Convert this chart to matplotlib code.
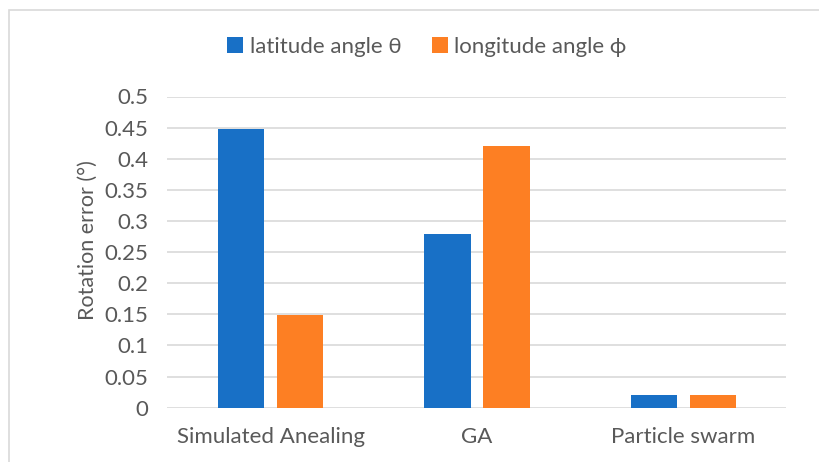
import matplotlib
matplotlib.use("Agg")
import matplotlib.pyplot as plt
from matplotlib.patches import Rectangle
import numpy as np

plt.rcParams['font.family'] = ['Lato', 'DejaVu Sans']

categories = ["Simulated Anealing", "GA", "Particle swarm"]
latitude = [0.447, 0.279, 0.021]
longitude = [0.149, 0.421, 0.021]
series_names = ["latitude angle θ", "longitude angle ϕ"]
y_ticks = [0, 0.05, 0.1, 0.15, 0.2, 0.25, 0.3, 0.35, 0.4, 0.45, 0.5]
y_tick_labels = ["0", "0.05", "0.1", "0.15", "0.2", "0.25", "0.3", "0.35", "0.4", "0.45", "0.5"]

BLUE = "#1870c6"
ORANGE = "#fd7f23"
TEXT = "#595959"
GRID = "#d9d9d9"

W, H = 820, 462
fig = plt.figure(figsize=(W / 100, H / 100), dpi=100)

# chart frame
fig.patches.append(Rectangle((9.5 / W, -0.1), 1.2, (H - 9.5) / H + 0.1,
                             transform=fig.transFigure, fill=False,
                             edgecolor=GRID, linewidth=1.2))

left, right = 167.5 / W, 786.5 / W
bottom, top = 1 - 407.7 / H, 1 - 96.5 / H
ax = fig.add_axes([left, bottom, right - left, top - bottom])

x = np.arange(len(categories))
width = 0.223
offset = 0.143
ax.bar(x - offset, latitude, width, color=BLUE, label=series_names[0], zorder=3)
ax.bar(x + offset, longitude, width, color=ORANGE, label=series_names[1], zorder=3)

ax.set_xlim(-0.5, len(categories) - 0.5)
ax.set_ylim(0, 0.5)
ax.set_yticks(y_ticks)
ax.set_yticklabels(y_tick_labels)
ax.set_xticks(x)
ax.set_xticklabels(categories)

ax.grid(axis='y', color=GRID, linewidth=1.2, zorder=0)
for s in ax.spines.values():
    s.set_visible(False)
ax.tick_params(axis='both', length=0, labelsize=16, colors=TEXT)
ax.tick_params(axis='y', pad=14)
ax.tick_params(axis='x', pad=14)
ax.set_ylabel("Rotation error (°)", fontsize=15.5, color=TEXT)
ax.yaxis.set_label_coords(88 / W, 1 - 240 / H, transform=fig.transFigure)
ax.yaxis.label.set_verticalalignment('center')

leg = fig.legend(loc='center', bbox_to_anchor=(427 / W, 1 - 47 / H), ncol=2,
                 frameon=False, fontsize=16, handlelength=0.7, handleheight=0.7,
                 handletextpad=0.3, columnspacing=1.4, labelcolor=TEXT)

fig.savefig("out.png", dpi=100)
